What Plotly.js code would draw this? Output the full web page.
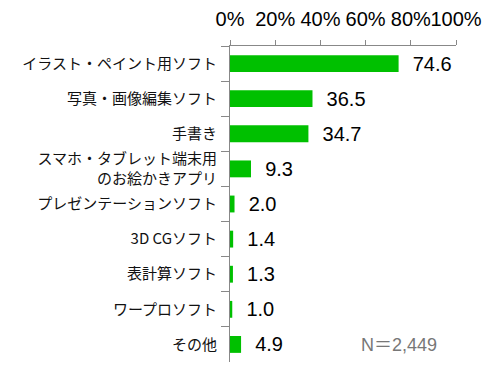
<!DOCTYPE html>
<html>
<head>
<meta charset="utf-8">
<script src="https://cdn.plot.ly/plotly-3.0.1.min.js"></script>
<style>html,body{margin:0;padding:0;background:#fff;}#chart{width:497px;height:374px;}</style>
</head>
<body>
<div id="chart"></div>
<script>
const categories = [
  "イラスト・ペイント用ソフト",
  "写真・画像編集ソフト",
  "手書き",
  "スマホ・タブレット端末用<br>のお絵かきアプリ",
  "プレゼンテーションソフト",
  "3D CGソフト",
  "表計算ソフト",
  "ワープロソフト",
  "その他"
];
const values = [74.6, 36.5, 34.7, 9.3, 2.0, 1.4, 1.3, 1.0, 4.9];
const tickVals = [0, 20, 40, 60, 80, 100];
const tickText = ["0%", "20%", "40%", "60%", "80%", "100%"];
const sampleNote = "N＝2,449";

const FONT = "Liberation Sans, Arial, Noto Sans CJK JP, sans-serif";

Plotly.newPlot("chart", [{
  type: "bar",
  orientation: "h",
  x: values,
  y: categories,
  marker: {color: "#00C000"},
  texttemplate: "\u00a0\u00a0%{x:.1f}",
  textposition: "outside",
  constraintext: "none",
  cliponaxis: false,
  textfont: {family: FONT, size: 20, color: "#000"},
  hoverinfo: "none"
}], {
  width: 497, height: 374,
  margin: {l: 230, r: 41, t: 46, b: 12},
  paper_bgcolor: "#fff", plot_bgcolor: "#fff",
  showlegend: false,
  bargap: 0.52,
  font: {family: FONT, color: "#000"},
  xaxis: {
    side: "top", range: [0, 100], tickvals: tickVals, ticktext: tickText,
    tickangle: 0,
    ticks: "outside", ticklen: 5, tickcolor: "#888", tickwidth: 1,
    showline: true, linecolor: "#888", linewidth: 1,
    showgrid: false, zeroline: false, fixedrange: true,
    ticklabelstandoff: 6,
    tickfont: {family: FONT, size: 20, color: "#000"}
  },
  yaxis: {
    autorange: "reversed", type: "category",
    ticks: "outside", ticklen: 8, tickcolor: "#888", tickwidth: 1,
    tickson: "boundaries",
    showline: true, linecolor: "#888", linewidth: 1,
    showgrid: false, zeroline: false, fixedrange: true,
    ticklabelstandoff: 9,
    tickfont: {family: "Noto Sans CJK JP, sans-serif", size: 15, color: "#111"}
  },
  annotations: [{
    text: sampleNote, xref: "paper", yref: "paper", x: 0.57, y: 0.055,
    xanchor: "left", yanchor: "middle", showarrow: false,
    font: {family: FONT, size: 18, color: "#777"}
  }]
}, {displayModeBar: false, staticPlot: true});
</script>
</body>
</html>
